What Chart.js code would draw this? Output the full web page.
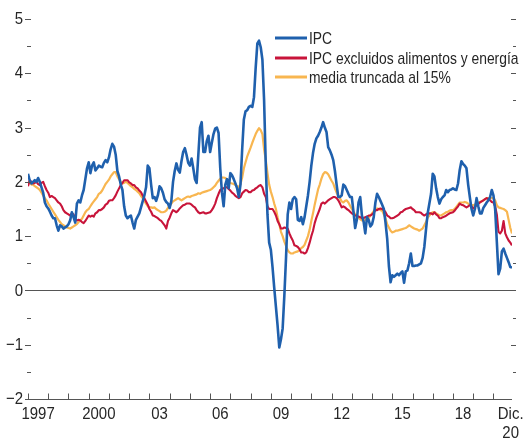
<!DOCTYPE html>
<html><head><meta charset="utf-8">
<script src="https://cdn.jsdelivr.net/npm/chart.js@4"></script>
<style>html,body{margin:0;padding:0;background:#fff}#wrap{width:523px;height:439px}</style>
</head><body><div id="wrap"><canvas id="c" width="523" height="439"></canvas></div>
<script>
const FONT = '"Liberation Sans", Arial, sans-serif';
const TEXT_SIZE = 17;
const TICK_SQUEEZE = 0.88;   // condensed look of the original typeface
const LEGEND_SQUEEZE = 0.815;

const seriesNames = ['IPC', 'IPC excluidos alimentos y energía', 'media truncada al 15%'];
const startYear = 1997;
const xTickPositions = [1997.5, 2000.5, 2003.5, 2006.5, 2009.5, 2012.5, 2015.5, 2018.5, 2020.85];
const xTickLabels = ['1997', '2000', '03', '06', '09', '12', '15', '18', ['Dic.', '20']];
const yearTicks = [1997,1998,1999,2000,2001,2002,2003,2004,2005,2006,2007,2008,2009,2010,2011,2012,2013,2014,2015,2016,2017,2018,2019,2020];
const yTickValues = [5, 4, 3, 2, 1, 0, -1, -2];

// Monthly values, Jan 1997 - Dec 2020 (one row per year)
const ipc = [
 2.15,2.03,1.97,2.0,2.03,2.0,2.07,2.0,1.9,1.8,1.62,1.55,
 1.51,1.45,1.38,1.33,1.33,1.2,1.1,1.2,1.18,1.14,1.16,1.18,
 1.22,1.29,1.44,1.35,1.25,1.6,1.66,1.62,1.75,1.85,2.05,2.25,
 2.36,2.16,2.3,2.36,2.21,2.25,2.3,2.28,2.27,2.35,2.4,2.36,
 2.45,2.6,2.7,2.65,2.5,2.2,2.1,1.95,1.85,1.55,1.38,1.33,
 1.36,1.38,1.25,1.14,1.3,1.36,1.42,1.53,1.64,1.75,1.9,2.3,
 2.25,1.95,1.7,1.72,1.65,1.75,1.92,1.88,1.8,1.68,1.63,1.6,
 1.52,1.65,2.0,2.2,2.34,2.22,2.17,2.38,2.55,2.62,2.5,2.35,
 2.3,2.43,2.25,2.05,1.98,2.5,3.0,3.1,2.55,2.55,2.75,2.85,
 2.55,2.72,2.88,2.98,3.0,2.9,2.25,1.8,1.55,1.95,2.05,1.88,
 2.16,2.12,2.05,1.97,1.88,1.72,1.95,2.6,3.15,3.3,3.32,3.38,
 3.4,3.38,3.56,4.1,4.55,4.6,4.48,4.25,3.5,2.3,1.4,0.88,
 0.75,0.43,0.05,-0.3,-0.65,-1.05,-0.9,-0.7,-0.1,0.6,1.4,1.62,
 1.5,1.68,1.72,1.68,1.3,1.28,1.35,1.22,1.35,1.55,1.75,2.0,
 2.3,2.53,2.7,2.8,2.85,2.92,3.0,3.1,3.0,2.92,2.64,2.58,
 2.5,2.4,2.2,1.95,1.72,1.72,1.75,1.95,1.92,1.85,1.78,1.72,
 1.72,1.45,1.15,1.3,1.62,1.72,1.38,1.27,1.05,1.35,1.3,1.18,
 1.22,1.35,1.62,1.78,1.72,1.65,1.58,1.5,1.25,0.95,0.45,0.15,
 0.28,0.25,0.28,0.31,0.28,0.32,0.35,0.14,0.35,0.37,0.5,0.68,
 0.45,0.45,0.46,0.46,0.48,0.5,0.6,0.8,1.12,1.42,1.6,1.78,
 2.15,2.1,1.88,1.72,1.6,1.68,1.72,1.75,1.85,1.81,1.85,1.86,
 1.88,1.86,1.85,1.97,2.22,2.38,2.33,2.3,2.25,1.95,1.72,1.5,
 1.38,1.5,1.7,1.55,1.42,1.42,1.52,1.57,1.62,1.66,1.72,1.85,
 1.75,1.5,0.9,0.3,0.4,0.72,0.77,0.68,0.6,0.52,0.43,0.42
];
const core = [
 1.92,2.03,2.0,1.97,1.98,2.0,1.96,1.94,1.98,2.0,1.92,1.85,
 1.8,1.72,1.74,1.72,1.7,1.66,1.62,1.6,1.55,1.48,1.44,1.42,
 1.4,1.38,1.42,1.4,1.32,1.29,1.3,1.29,1.26,1.24,1.28,1.33,
 1.38,1.36,1.38,1.36,1.42,1.44,1.48,1.48,1.5,1.53,1.58,1.6,
 1.65,1.66,1.66,1.7,1.75,1.82,1.88,1.94,1.98,2.03,2.03,2.03,
 1.99,1.97,1.94,1.94,1.9,1.88,1.84,1.81,1.75,1.7,1.64,1.58,
 1.5,1.45,1.38,1.37,1.35,1.33,1.3,1.28,1.24,1.2,1.14,1.28,
 1.34,1.42,1.48,1.46,1.44,1.47,1.51,1.54,1.57,1.58,1.6,1.6,
 1.6,1.58,1.55,1.53,1.48,1.44,1.42,1.43,1.44,1.42,1.42,1.43,
 1.44,1.48,1.53,1.6,1.7,1.78,1.85,1.87,1.88,1.9,1.9,1.87,
 1.84,1.8,1.78,1.74,1.72,1.7,1.72,1.79,1.82,1.85,1.84,1.81,
 1.81,1.84,1.85,1.88,1.9,1.93,1.94,1.9,1.78,1.72,1.55,1.5,
 1.5,1.5,1.45,1.38,1.28,1.22,1.14,1.14,1.16,1.15,1.14,1.05,
 0.98,0.92,0.83,0.82,0.8,0.76,0.7,0.7,0.68,0.7,0.78,0.88,
 1.0,1.1,1.24,1.34,1.42,1.5,1.6,1.62,1.6,1.63,1.66,1.68,
 1.7,1.72,1.72,1.7,1.66,1.6,1.53,1.55,1.53,1.5,1.48,1.45,
 1.42,1.4,1.38,1.38,1.36,1.35,1.33,1.33,1.35,1.36,1.38,1.38,
 1.4,1.43,1.48,1.48,1.5,1.51,1.5,1.48,1.44,1.38,1.36,1.33,
 1.33,1.34,1.36,1.38,1.4,1.44,1.45,1.48,1.5,1.51,1.52,1.53,
 1.5,1.48,1.44,1.44,1.44,1.43,1.4,1.38,1.4,1.42,1.42,1.42,
 1.4,1.44,1.4,1.38,1.33,1.33,1.35,1.36,1.38,1.4,1.42,1.43,
 1.44,1.47,1.51,1.55,1.6,1.58,1.57,1.55,1.53,1.55,1.57,1.55,
 1.51,1.54,1.57,1.59,1.62,1.64,1.66,1.68,1.7,1.68,1.66,1.63,
 1.62,1.55,1.4,1.08,1.05,1.1,1.28,1.05,0.98,0.92,0.88,0.83
];
const trimmed = [
 2.0,1.98,1.95,1.95,1.92,1.9,1.88,1.85,1.8,1.75,1.7,1.66,
 1.6,1.55,1.5,1.45,1.4,1.35,1.3,1.26,1.22,1.2,1.18,1.16,
 1.15,1.14,1.16,1.18,1.2,1.22,1.26,1.29,1.32,1.38,1.44,1.48,
 1.5,1.55,1.6,1.64,1.68,1.72,1.78,1.8,1.84,1.9,1.96,2.0,
 2.04,2.1,2.14,2.18,2.18,2.1,2.05,2.0,1.97,1.98,2.0,1.98,
 1.95,1.92,1.9,1.87,1.85,1.82,1.79,1.74,1.7,1.65,1.6,1.55,
 1.53,1.53,1.52,1.53,1.5,1.48,1.46,1.44,1.44,1.45,1.47,1.52,
 1.56,1.6,1.64,1.66,1.68,1.7,1.68,1.66,1.68,1.7,1.72,1.73,
 1.72,1.74,1.75,1.76,1.77,1.79,1.78,1.8,1.81,1.82,1.83,1.84,
 1.85,1.87,1.9,1.93,1.98,2.02,2.06,2.08,2.08,2.07,2.04,2.0,
 1.98,1.97,1.96,1.94,1.92,1.9,1.96,2.08,2.25,2.36,2.47,2.55,
 2.63,2.72,2.8,2.88,2.94,2.99,2.95,2.88,2.6,2.4,2.16,1.95,
 1.82,1.72,1.6,1.5,1.35,1.22,1.08,1.0,0.9,0.82,0.74,0.7,
 0.68,0.68,0.7,0.71,0.72,0.74,0.78,0.8,0.84,0.92,1.0,1.12,
 1.28,1.42,1.58,1.72,1.86,1.95,2.06,2.14,2.18,2.17,2.14,2.08,
 2.02,1.97,1.88,1.8,1.74,1.7,1.64,1.62,1.65,1.66,1.62,1.56,
 1.5,1.45,1.4,1.36,1.34,1.31,1.29,1.28,1.3,1.32,1.33,1.38,
 1.42,1.46,1.5,1.51,1.5,1.48,1.47,1.4,1.33,1.22,1.16,1.1,
 1.07,1.08,1.1,1.1,1.11,1.12,1.13,1.14,1.15,1.17,1.2,1.18,
 1.16,1.14,1.13,1.12,1.1,1.12,1.14,1.2,1.26,1.34,1.38,1.42,
 1.44,1.44,1.42,1.4,1.38,1.38,1.4,1.42,1.44,1.45,1.47,1.48,
 1.48,1.5,1.54,1.58,1.62,1.62,1.62,1.63,1.62,1.6,1.58,1.57,
 1.57,1.58,1.6,1.62,1.63,1.64,1.66,1.68,1.7,1.7,1.7,1.7,
 1.7,1.66,1.57,1.53,1.52,1.51,1.5,1.48,1.45,1.3,1.15,1.05
];

const months = ipc.map((_, i) => startYear + i / 12);
const colors = ['#1f60ad', '#c8143a', '#f8b650'];
const widths = [2.6, 2.1, 2.2];

function squeezedText(ctx, text, x, y, align, sq) {
  ctx.save();
  ctx.translate(x, y);
  ctx.scale(sq, 1);
  ctx.textAlign = align;
  ctx.fillText(text, 0, 0);
  ctx.restore();
}

const axisPlugin = {
  id: 'axisPlugin',
  beforeDatasetsDraw(chart) {
    const ctx = chart.ctx, a = chart.chartArea, ys = chart.scales.y;
    ctx.save();
    ctx.strokeStyle = '#555'; ctx.lineWidth = 1;
    const y0 = Math.round(ys.getPixelForValue(0)) + 0.5;
    ctx.beginPath(); ctx.moveTo(a.left - 3, y0); ctx.lineTo(a.right, y0); ctx.stroke();
    ctx.restore();
  },
  afterDraw(chart) {
    const ctx = chart.ctx, a = chart.chartArea, xs = chart.scales.x, ys = chart.scales.y;
    ctx.save();
    ctx.strokeStyle = '#555'; ctx.lineWidth = 1;
    const yb = Math.round(ys.getPixelForValue(-2)) + 0.5;
    ctx.beginPath(); ctx.moveTo(a.left - 3, yb); ctx.lineTo(a.right, yb); ctx.stroke();
    yearTicks.forEach(yr => {
      const x = Math.round(xs.getPixelForValue(yr)) + 0.5;
      ctx.beginPath(); ctx.moveTo(x, yb); ctx.lineTo(x, yb - 6); ctx.stroke();
    });
    for (let k = -4; k <= 10; k++) {
      const v = k / 2;
      if (v === -2) continue;
      const y = Math.round(ys.getPixelForValue(v)) + 0.5;
      const major = k % 2 === 0;
      ctx.beginPath();
      if (major) { ctx.moveTo(a.left - 3, y); ctx.lineTo(a.left + 3, y); }
      else { ctx.moveTo(a.left - 1, y); ctx.lineTo(a.left + 3, y); }
      ctx.moveTo(major ? a.right - 1 : a.right + 1, y); ctx.lineTo(a.right + 4, y);
      ctx.stroke();
    }
    ctx.fillStyle = '#262626';
    ctx.font = TEXT_SIZE + 'px ' + FONT;
    ctx.textBaseline = 'middle';
    yTickValues.forEach(v => {
      const t = v < 0 ? '\u2212' + Math.abs(v) : String(v);
      squeezedText(ctx, t, a.left - 5, ys.getPixelForValue(v) + 0.5, 'right', TICK_SQUEEZE);
    });
    xTickPositions.forEach((p, i) => {
      const lab = xTickLabels[i];
      const lines = Array.isArray(lab) ? lab : [lab];
      lines.forEach((ln, j) => squeezedText(ctx, ln, xs.getPixelForValue(p), yb + 15 + j * 19, 'center', TICK_SQUEEZE));
    });
    const rows = [38, 58, 77];
    chart.data.datasets.forEach((ds, i) => {
      ctx.strokeStyle = ds.borderColor; ctx.lineWidth = 3;
      ctx.beginPath(); ctx.moveTo(275, rows[i]); ctx.lineTo(307, rows[i]); ctx.stroke();
      squeezedText(ctx, ds.label, 309, rows[i] + 1, 'left', LEGEND_SQUEEZE);
    });
    ctx.restore();
  }
};

const series = [ipc, core, trimmed];
new Chart(document.getElementById('c'), {
  type: 'line',
  data: {
    labels: months,
    datasets: series.map((d, i) => ({
      label: seriesNames[i], data: d, borderColor: colors[i], backgroundColor: colors[i],
      borderWidth: widths[i], pointRadius: 0, tension: 0, fill: false, borderJoinStyle: 'round'
    }))
  },
  options: {
    responsive: false, animation: false, devicePixelRatio: 1,
    layout: { padding: { left: 0, right: 11, top: 19, bottom: 0 } },
    plugins: { legend: { display: false }, tooltip: { enabled: false } },
    scales: {
      x: {
        type: 'linear', min: 1997, max: 2020 + 11 / 12,
        grid: { display: false, drawTicks: false }, border: { display: false },
        afterBuildTicks(s) { s.ticks = xTickPositions.map(v => ({ value: v })); },
        ticks: { display: false },
        afterFit(s) { s.height = 40; }
      },
      y: {
        min: -2, max: 5,
        grid: { display: false, drawTicks: false }, border: { display: false },
        ticks: { display: false, stepSize: 1 },
        afterFit(s) { s.width = 28; }
      }
    }
  },
  plugins: [axisPlugin]
});
</script>
</body></html>
